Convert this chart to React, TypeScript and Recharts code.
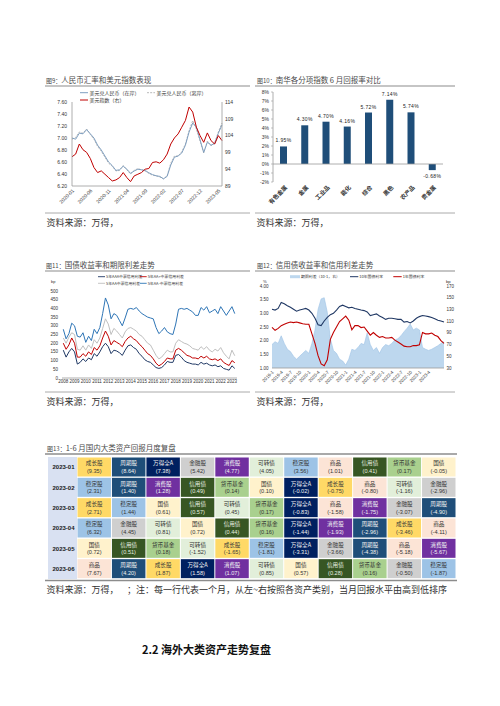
import React from 'react';
import { LineChart, Line, XAxis, YAxis, BarChart, Bar, ComposedChart, Area, ReferenceLine, LabelList } from 'recharts';

const CJK = '"Noto Sans CJK SC", "Noto Sans", sans-serif';
const NUM = '"Liberation Sans", Arial, sans-serif';

// ---------- 图9 人民币汇率和美元指数 ----------
const fxMonths = [
  '2020-01','2020-02','2020-03','2020-04','2020-05','2020-06','2020-07','2020-08','2020-09','2020-10','2020-11','2020-12',
  '2021-01','2021-02','2021-03','2021-04','2021-05','2021-06','2021-07','2021-08','2021-09','2021-10','2021-11','2021-12',
  '2022-01','2022-02','2022-03','2022-04','2022-05','2022-06','2022-07','2022-08','2022-09','2022-10','2022-11','2022-12',
  '2023-01','2023-02','2023-03','2023-04','2023-05','2023-06',
];
const fxTickMonths = ['2020-01','2020-06','2020-11','2021-04','2021-09','2022-02','2022-07','2022-12','2023-05'];
const usdCnyOnshore = [
  7.00, 6.98, 7.08, 7.07, 7.14, 7.07, 7.00, 6.88, 6.80, 6.70, 6.60, 6.54,
  6.46, 6.47, 6.53, 6.48, 6.41, 6.45, 6.48, 6.47, 6.46, 6.42, 6.39, 6.37,
  6.36, 6.32, 6.36, 6.55, 6.68, 6.70, 6.75, 6.88, 7.10, 7.25, 7.18, 6.97,
  6.76, 6.93, 6.88, 6.91, 7.08, 7.22,
];
const usdCnhOffshore = [
  6.98, 7.01, 7.10, 7.08, 7.15, 7.06, 6.98, 6.86, 6.78, 6.68, 6.58, 6.53,
  6.45, 6.46, 6.54, 6.47, 6.40, 6.46, 6.49, 6.47, 6.45, 6.41, 6.38, 6.37,
  6.35, 6.32, 6.37, 6.58, 6.70, 6.70, 6.77, 6.90, 7.12, 7.29, 7.15, 6.95,
  6.75, 6.95, 6.87, 6.92, 7.10, 7.25,
];
const dollarIndex = [
  97.7, 98.5, 101.5, 99.8, 99.0, 97.2, 94.5, 93.0, 93.5, 92.5, 91.5, 90.5,
  90.8, 91.5, 93.0, 91.5, 90.3, 92.0, 92.5, 93.0, 94.0, 94.2, 96.0, 96.2,
  95.8, 96.8, 98.5, 101.5, 103.3, 104.5, 106.5, 108.5, 112.5, 111.0, 106.5, 104.0,
  102.0, 104.8, 102.5, 101.5, 104.0, 102.5,
];
const fxLeftTicks = [6.2, 6.4, 6.6, 6.8, 7.0, 7.2, 7.4, 7.6];
const fxRightTicks = [89, 94, 99, 104, 109, 114];

// ---------- 图10 南华分项指数 ----------
const nhCategories = ['有色金属', '金属', '工业品', '能化', '综合', '黑色', '农产品', '贵金属'];
const nhReturns = [1.95, 4.30, 4.70, 4.16, 5.72, 7.14, 5.74, -0.68];
const nhTicks = [-2, -1, 0, 1, 2, 3, 4, 5, 6, 7, 8];

// ---------- 图11 信用利差 ----------
const spreadQuarters = [
  '2008Q1','2008Q2','2008Q3','2008Q4','2009Q1','2009Q2','2009Q3','2009Q4',
  '2010Q1','2010Q2','2010Q3','2010Q4','2011Q1','2011Q2','2011Q3','2011Q4',
  '2012Q1','2012Q2','2012Q3','2012Q4','2013Q1','2013Q2','2013Q3','2013Q4',
  '2014Q1','2014Q2','2014Q3','2014Q4','2015Q1','2015Q2','2015Q3','2015Q4',
  '2016Q1','2016Q2','2016Q3','2016Q4','2017Q1','2017Q2','2017Q3','2017Q4',
  '2018Q1','2018Q2','2018Q3','2018Q4','2019Q1','2019Q2','2019Q3','2019Q4',
  '2020Q1','2020Q2','2020Q3','2020Q4','2021Q1','2021Q2','2021Q3','2021Q4',
  '2022Q1','2022Q2','2022Q3','2022Q4','2023Q1','2023Q2',
];
const spreadYearLabels = ['2008','2009','2010','2011','2012','2013','2014','2015','2016','2017','2018','2019','2020','2021','2022','2023'];
const spreadAAA = [
  160, 120, 150, 170, 150, 80, 90, 110, 95, 115, 105, 140, 125, 150, 180, 200,
  180, 140, 160, 155, 145, 130, 160, 185, 190, 175, 165, 140, 125, 105, 95, 90,
  75, 60, 55, 60, 75, 95, 90, 90, 130, 135, 120, 100, 90, 85, 80, 80,
  75, 90, 80, 85, 75, 70, 75, 65, 70, 55, 50, 45, 70, 55,
];
const spreadAAplus = [
  200, 165, 190, 230, 200, 120, 120, 140, 125, 150, 135, 175, 160, 185, 230, 270,
  240, 190, 215, 205, 195, 180, 210, 230, 240, 225, 215, 195, 180, 160, 140, 130,
  110, 85, 70, 80, 95, 115, 110, 110, 160, 170, 160, 145, 130, 125, 115, 115,
  110, 125, 115, 125, 110, 105, 110, 100, 110, 90, 80, 72, 100, 88,
];
const spreadAA = [
  230, 200, 235, 260, 250, 165, 160, 185, 160, 190, 170, 220, 200, 230, 285, 340,
  310, 250, 285, 270, 250, 230, 265, 285, 290, 280, 270, 250, 240, 220, 200, 190,
  160, 130, 110, 120, 140, 160, 150, 150, 200, 220, 210, 200, 195, 185, 170, 165,
  160, 180, 165, 180, 160, 150, 165, 155, 175, 145, 125, 110, 160, 128,
];
const spreadAAminus = [
  280, 225, 255, 315, 300, 240, 235, 260, 205, 240, 215, 280, 255, 290, 370, 460,
  420, 340, 370, 360, 330, 300, 345, 395, 400, 395, 405, 385, 370, 360, 350, 345,
  340, 290, 255, 270, 290, 265, 255, 250, 310, 395, 400, 395, 400, 390, 380, 360,
  360, 405, 390, 410, 375, 385, 395, 370, 410, 385, 360, 385, 410, 370,
];
const spreadTicks = [0, 50, 100, 150, 200, 250, 300, 350, 400, 450, 500];

// ---------- 图12 国债利率与期限利差 ----------
const rateMonths = [
  '2019-1','2019-2','2019-3','2019-4','2019-5','2019-6','2019-7','2019-8','2019-9','2019-10','2019-11','2019-12',
  '2020-1','2020-2','2020-3','2020-4','2020-5','2020-6','2020-7','2020-8','2020-9','2020-10','2020-11','2020-12',
  '2021-1','2021-2','2021-3','2021-4','2021-5','2021-6','2021-7','2021-8','2021-9','2021-10','2021-11','2021-12',
  '2022-1','2022-2','2022-3','2022-4','2022-5','2022-6','2022-7','2022-8','2022-9','2022-10','2022-11','2022-12',
  '2023-1','2023-2','2023-3','2023-4','2023-5','2023-6','2023-7','2023-8','2023-9',
];
const rateTickMonths = ['2019-1','2019-4','2019-7','2019-10','2020-1','2020-4','2020-7','2020-10','2021-1','2021-4','2021-7','2021-10','2022-1','2022-4','2022-7','2022-10','2023-1','2023-4'];
const tenYearYield = [
  3.15, 3.12, 3.18, 3.40, 3.35, 3.28, 3.22, 3.15, 3.08, 3.12, 3.15, 3.18,
  3.12, 3.00, 2.82, 2.58, 2.55, 2.72, 2.85, 2.95, 3.00, 3.12, 3.25, 3.30,
  3.25, 3.20, 3.22, 3.18, 3.15, 3.12, 3.10, 3.05, 2.92, 2.95, 2.98, 2.90,
  2.85, 2.78, 2.82, 2.82, 2.80, 2.78, 2.78, 2.68, 2.70, 2.65, 2.72, 2.82,
  2.88, 2.92, 2.90, 2.88, 2.85, 2.80, 2.75, 2.72, 2.68,
];
const oneYearYield = [
  2.49, 2.38, 2.45, 2.55, 2.60, 2.65, 2.68, 2.66, 2.68, 2.65, 2.62, 2.60,
  2.60, 2.25, 1.90, 1.45, 1.15, 1.08, 1.30, 2.05, 2.30, 2.50, 2.70, 2.80,
  2.90, 2.75, 2.40, 2.55, 2.55, 2.48, 2.50, 2.35, 2.20, 2.30, 2.20, 2.12,
  2.15, 2.10, 2.10, 2.12, 2.02, 1.95, 1.88, 1.80, 1.78, 1.78, 1.82, 1.82,
  1.85, 2.30, 2.25, 2.25, 2.28, 2.20, 2.15, 2.00, 1.90,
];
const termSpread = [
  70, 75, 72, 85, 72, 62, 58, 50, 45, 50, 55, 60,
  55, 72, 95, 130, 148, 150, 125, 80, 60, 55, 45, 42,
  35, 45, 62, 60, 65, 72, 70, 90, 70, 60, 65, 55,
  65, 70, 68, 72, 78, 80, 85, 92, 98, 105, 95, 98,
  95, 65, 62, 60, 62, 65, 68, 72, 75,
];
const rateLeftTicks = [1, 1.5, 2, 2.5, 3, 3.5, 4];
const rateRightTicks = [30, 50, 70, 90, 110, 130, 150, 170];

// ---------- 图13 大类资产月度回报 ----------
const tableMonths = ['2023-01', '2023-02', '2023-03', '2023-04', '2023-05', '2023-06'];
const rankAssets = [
  ['成长股', '周期股', '万得全A', '金融股', '消费股', '可转债', '稳定股', '商品', '信用债', '货币基金', '国债'],
  ['稳定股', '周期股', '消费股', '信用债', '货币基金', '国债', '万得全A', '成长股', '商品', '可转债', '金融股'],
  ['成长股', '稳定股', '国债', '信用债', '可转债', '货币基金', '万得全A', '商品', '消费股', '金融股', '周期股'],
  ['稳定股', '金融股', '可转债', '国债', '信用债', '货币基金', '万得全A', '消费股', '周期股', '成长股', '商品'],
  ['国债', '信用债', '货币基金', '可转债', '成长股', '稳定股', '万得全A', '金融股', '周期股', '商品', '消费股'],
  ['商品', '周期股', '成长股', '万得全A', '消费股', '可转债', '国债', '信用债', '货币基金', '金融股', '稳定股'],
];
const rankReturns = [
  [9.35, 8.64, 7.38, 5.42, 4.77, 4.05, 3.56, 1.01, 0.41, 0.17, -0.05],
  [2.31, 1.40, 1.28, 0.49, 0.14, 0.10, -0.02, -0.75, -0.80, -1.16, -2.96],
  [2.71, 1.44, 0.61, 0.57, 0.45, 0.17, -0.83, -1.58, -1.75, -3.07, -4.90],
  [6.32, 4.45, 0.81, 0.72, 0.44, 0.16, -1.44, -1.93, -2.96, -3.46, -4.11],
  [0.72, 0.51, 0.18, -1.52, -1.65, -1.81, -3.31, -3.66, -4.38, -5.18, -5.67],
  [7.67, 4.20, 1.87, 1.58, 1.07, 0.85, 0.57, 0.28, 0.16, -0.50, -1.87],
];
const rankSlots = ['r0', 'r1', 'r2', 'r3', 'r4', 'r5', 'r6', 'r7', 'r8', 'r9', 'r10'];

const assetStyle: Record<string, { bg: string; fg: string }> = {
  '成长股': { bg: '#FFD966', fg: '#3A3A3A' },
  '周期股': { bg: '#1F4E79', fg: '#F2F2F2' },
  '万得全A': { bg: '#002060', fg: '#F2F2F2' },
  '金融股': { bg: '#CFCFCF', fg: '#333333' },
  '消费股': { bg: '#7030A0', fg: '#F2F2F2' },
  '可转债': { bg: '#E2EFDA', fg: '#333333' },
  '稳定股': { bg: '#9DC3E6', fg: '#333333' },
  '商品': { bg: '#FCE4D6', fg: '#333333' },
  '信用债': { bg: '#375623', fg: '#E8F0E0' },
  '货币基金': { bg: '#A9D08E', fg: '#333333' },
  '国债': { bg: '#FFF2CC', fg: '#333333' },
};

// ---------- shared ticks ----------
const RotTick = (props: any) => {
  const { x, y, payload, labels, size = 5, bold = false, fam = NUM, dx = 2.5, dy = 5 } = props;
  const label = labels ? labels[payload.value] : payload.value;
  const px = x + dx;
  const py = y + dy;
  return (
    <text x={px} y={py} transform={`rotate(-45 ${px} ${py})`} textAnchor="end" fontSize={size}
      fontWeight={bold ? 700 : 400} fontFamily={fam} fill="#333">{label}</text>
  );
};

const numTick = (size: number) => ({ fontSize: size, fill: '#333', fontFamily: NUM });

function FxChart() {
  const data = fxMonths.map((m, i) => ({ i, month: m, on: usdCnyOnshore[i], off: usdCnhOffshore[i], dxy: dollarIndex[i] }));
  const tickIdx = fxTickMonths.map((m) => fxMonths.indexOf(m));
  return (
    <div style={{ position: 'absolute', left: 40, top: 86 }}>
      <LineChart width={210} height={127} data={data} margin={{ top: 16, right: 6, bottom: 2, left: 0 }}>
        <XAxis dataKey="i" type="number" domain={[0, 41]} ticks={tickIdx} interval={0} height={25}
          tickSize={0} tickMargin={0} tickLine={false} axisLine={{ stroke: '#9A9A9A', strokeWidth: 0.8 }}
          tick={(p: any) => <RotTick {...p} labels={fxMonths} size={5} />} />
        <YAxis yAxisId="l" domain={[6.2, 7.6]} ticks={fxLeftTicks} interval={0} width={32}
          tickFormatter={(v: number) => v.toFixed(2)} tickLine={false} tickSize={0} tickMargin={5}
          axisLine={{ stroke: '#9A9A9A', strokeWidth: 0.8 }} tick={numTick(5)} />
        <YAxis yAxisId="r" orientation="right" domain={[89, 114]} ticks={fxRightTicks} interval={0} width={22}
          tickLine={false} tickSize={0} tickMargin={3} axisLine={{ stroke: '#9A9A9A', strokeWidth: 0.8 }} tick={numTick(5)} />
        <Line yAxisId="l" dataKey="off" stroke="#A6A6A6" strokeWidth={0.8} strokeDasharray="2 1.2" dot={false} isAnimationActive={false} />
        <Line yAxisId="l" dataKey="on" stroke="#7F9FC0" strokeWidth={1} dot={false} isAnimationActive={false} />
        <Line yAxisId="r" dataKey="dxy" stroke="#C00000" strokeWidth={1} dot={false} isAnimationActive={false} />
      </LineChart>
    </div>
  );
}

const BarLabel = (p: any) => {
  const { x, y, width, height, value } = p;
  const top = Math.min(y, y + height);
  const bottom = Math.max(y, y + height);
  const neg = value < 0;
  return (
    <text x={x + width / 2} y={neg ? bottom + 8 : top - 4} textAnchor="middle" fontSize={5} letterSpacing={0.4}
      fontFamily={NUM} fill="#222">{`${value.toFixed(2)}%`}</text>
  );
};

function NanhuaChart() {
  const data = nhCategories.map((name, i) => ({ name, v: nhReturns[i] }));
  return (
    <div style={{ position: 'absolute', left: 250, top: 86 }}>
      <BarChart width={205} height={127} data={data} margin={{ top: 6, right: 12, bottom: 1, left: 0 }}>
        <XAxis dataKey="name" interval={0} height={30} tickSize={0} tickMargin={0} tickLine={false} axisLine={false}
          tick={(p: any) => <RotTick {...p} size={5.8} bold fam={CJK} dx={4} dy={6} />} />
        <YAxis domain={[-2, 8]} ticks={nhTicks} interval={0} width={23} tickFormatter={(v: number) => `${v}%`}
          tickSize={2} tickMargin={2} tickLine={{ stroke: '#9A9A9A', strokeWidth: 0.6 }}
          axisLine={{ stroke: '#9A9A9A', strokeWidth: 0.8 }} tick={numTick(5)} />
        <ReferenceLine y={0} stroke="#9A9A9A" strokeWidth={0.8} />
        <Bar dataKey="v" fill="#1F4E79" barSize={7} isAnimationActive={false}>
          <LabelList dataKey="v" content={BarLabel} />
        </Bar>
      </BarChart>
    </div>
  );
}

function SpreadChart() {
  const data = spreadQuarters.map((q, i) => ({
    i, q, aaa: spreadAAA[i], aap: spreadAAplus[i], aa: spreadAA[i], aam: spreadAAminus[i],
  }));
  const yearTicks = spreadYearLabels.map((y) => spreadQuarters.indexOf(`${y}Q1`));
  return (
    <div style={{ position: 'absolute', left: 40, top: 272 }}>
      <LineChart width={210} height={120} data={data} margin={{ top: 19, right: 13, bottom: 2, left: 0 }}>
        <XAxis dataKey="i" type="number" domain={[-0.46, 61.8]} ticks={yearTicks} interval={0} height={12}
          tickFormatter={(v: number) => spreadQuarters[v].slice(0, 4)} tickSize={0} tickMargin={2} tickLine={false}
          axisLine={{ stroke: '#9A9A9A', strokeWidth: 0.8 }} tick={numTick(4.5)} />
        <YAxis domain={[0, 500]} ticks={spreadTicks} interval={0} width={22} tickSize={0} tickMargin={4}
          tickLine={false} axisLine={false} tick={numTick(4.5)} />
        <Line dataKey="aam" stroke="#2E75B6" strokeWidth={1} dot={false} isAnimationActive={false} />
        <Line dataKey="aa" stroke="#BFBFBF" strokeWidth={1} dot={false} isAnimationActive={false} />
        <Line dataKey="aap" stroke="#C00000" strokeWidth={1} dot={false} isAnimationActive={false} />
        <Line dataKey="aaa" stroke="#1F3864" strokeWidth={1} dot={false} isAnimationActive={false} />
      </LineChart>
    </div>
  );
}

function RateChart() {
  const data = rateMonths.map((m, i) => ({ i, m, ten: tenYearYield[i], one: oneYearYield[i], sp: termSpread[i] }));
  const tickIdx = rateTickMonths.map((m) => rateMonths.indexOf(m));
  return (
    <div style={{ position: 'absolute', left: 250, top: 272 }}>
      <ComposedChart width={205} height={120} data={data} margin={{ top: 14, right: 0, bottom: 2, left: 0 }}>
        <XAxis dataKey="i" type="number" domain={[0, 56]} ticks={tickIdx} interval={0} height={22}
          tickSize={0} tickMargin={0} tickLine={false} axisLine={{ stroke: '#9A9A9A', strokeWidth: 0.8 }}
          tick={(p: any) => <RotTick {...p} labels={rateMonths} size={4.5} dx={2} dy={4.5} />} />
        <YAxis yAxisId="l" domain={[1, 4]} ticks={rateLeftTicks} interval={0} width={22}
          tickFormatter={(v: number) => v.toFixed(2)} tickSize={0} tickMargin={3.5} tickLine={false}
          axisLine={false} tick={numTick(4.5)} />
        <YAxis yAxisId="r" orientation="right" domain={[30, 170]} ticks={rateRightTicks} interval={0} width={11}
          tickSize={0} tickMargin={2.5} tickLine={false} axisLine={false} tick={numTick(4.5)} />
        <Area yAxisId="r" dataKey="sp" baseValue="dataMin" fill="#BDD7EE" fillOpacity={1} stroke="#9DC3E6"
          strokeWidth={0.6} dot={false} isAnimationActive={false} />
        <Line yAxisId="l" dataKey="ten" stroke="#203864" strokeWidth={1.1} dot={false} isAnimationActive={false} />
        <Line yAxisId="l" dataKey="one" stroke="#C00000" strokeWidth={1.1} dot={false} isAnimationActive={false} />
      </ComposedChart>
    </div>
  );
}

const MonthTick = (p: any) => (
  <text x={15.5} y={p.y} dy="0.35em" textAnchor="middle" fontSize={6} fontWeight={700} fontFamily={NUM} fill="#1A1A1A">
    {p.payload.value}
  </text>
);

function makeCellShape(slot: number) {
  return (p: any) => {
    const { x, y, width, height, index } = p;
    const name = rankAssets[index][slot];
    const val = rankReturns[index][slot];
    const st = assetStyle[name];
    const cx = x + width / 2;
    return (
      <g>
        <rect x={x + 0.5} y={y + 0.5} width={width - 1} height={height - 1} fill={st.bg} />
        <text x={cx} y={y + 8.4} textAnchor="middle" fontSize={5.6} fontFamily={CJK} fill={st.fg}>{name}</text>
        <text x={cx} y={y + 16} textAnchor="middle" fontSize={5.6} fontFamily={NUM} fill={st.fg}>{`(${val.toFixed(2)})`}</text>
      </g>
    );
  };
}

function ReturnTable() {
  const data = tableMonths.map((month) => {
    const row: Record<string, any> = { month };
    rankSlots.forEach((s) => { row[s] = 1; });
    return row;
  });
  return (
    <>
      <div style={{ position: 'absolute', left: 48, top: 456.5, width: 29, height: 122, background: '#D9E1F2' }} />
      <div style={{ position: 'absolute', left: 48, top: 456.5 }}>
        <BarChart layout="vertical" width={408} height={122} data={data} margin={{ top: 0, right: 0, bottom: 0, left: 0 }}
          barCategoryGap={0}>
          <XAxis type="number" domain={[0, 11]} hide />
          <YAxis type="category" dataKey="month" width={29} axisLine={false} tickLine={false} interval={0} tick={MonthTick} />
          {rankSlots.map((s, k) => (
            <Bar key={s} dataKey={s} stackId="t" isAnimationActive={false} shape={makeCellShape(k)} />
          ))}
        </BarChart>
      </div>
    </>
  );
}

function PageText() {
  const title = (x: number, y: number, num: string, s: string) => (
    <text x={x} y={y} fontFamily={CJK} fill="#4A4A4A">
      <tspan fontSize={6}>{num}</tspan>
      <tspan fontSize={7.5}>{s}</tspan>
    </text>
  );
  const src = (x: number, y: number) => (
    <text x={x} y={y} fontSize={9} fontFamily={CJK} fill="#333">资料来源：万得，</text>
  );
  const lg = { fontSize: 5, fontFamily: CJK, fill: '#333' } as any;
  const lg2 = { fontSize: 3.9, fontFamily: CJK, fill: '#333' } as any;
  return (
    <svg width={500} height={706} style={{ position: 'absolute', left: 0, top: 0, pointerEvents: 'none' }}>
      {/* titles */}
      {title(46, 82.6, '图9：', '人民币汇率和美元指数表现')}
      {title(257, 82.6, '图10：', '南华各分项指数 6 月回报率对比')}
      {title(46, 267.6, '图11：', '国债收益率和期限利差走势')}
      {title(257, 267.6, '图12：', '信用债收益率和信用利差走势')}
      {title(47, 450.8, '图13：', '1-6 月国内大类资产回报月度复盘')}

      {/* rules */}
      <line x1={45} x2={250} y1={86} y2={86} stroke="#8C8C8C" strokeWidth={1.2} />
      <line x1={255} x2={455} y1={86} y2={86} stroke="#8C8C8C" strokeWidth={1.2} />
      <line x1={45} x2={250} y1={213} y2={213} stroke="#A0A0A0" strokeWidth={0.9} />
      <line x1={255} x2={455} y1={213} y2={213} stroke="#A0A0A0" strokeWidth={0.9} />
      <line x1={45} x2={250} y1={271} y2={271} stroke="#8C8C8C" strokeWidth={1.2} />
      <line x1={255} x2={455} y1={271} y2={271} stroke="#8C8C8C" strokeWidth={1.2} />
      <line x1={45} x2={250} y1={392} y2={392} stroke="#A0A0A0" strokeWidth={0.9} />
      <line x1={255} x2={455} y1={392} y2={392} stroke="#A0A0A0" strokeWidth={0.9} />
      <line x1={45} x2={457} y1={454} y2={454} stroke="#8C8C8C" strokeWidth={1.4} />
      <line x1={45} x2={457} y1={580.5} y2={580.5} stroke="#8C8C8C" strokeWidth={1.4} />

      {/* sources */}
      {src(46.5, 226.3)}
      {src(256.5, 226.3)}
      {src(46.5, 405)}
      {src(256.5, 405)}
      {src(46.5, 593.3)}
      <text x={127} y={593.3} fontSize={9} fontFamily={CJK} fill="#333">；注：每一行代表一个月，从左~右按照各资产类别，当月回报水平由高到低排序</text>

      {/* chart 9 legend */}
      <line x1={80} x2={88} y1={92.7} y2={92.7} stroke="#7F9FC0" strokeWidth={1} />
      <text x={89.5} y={94.5} {...lg}>美元兑人民币（在岸）</text>
      <line x1={147} x2={155} y1={92.7} y2={92.7} stroke="#A6A6A6" strokeWidth={0.8} strokeDasharray="2 1.2" />
      <text x={156.5} y={94.5} {...lg}>美元兑人民币（离岸）</text>
      <line x1={80} x2={88} y1={100} y2={100} stroke="#C00000" strokeWidth={1} />
      <text x={89.5} y={101.8} {...lg}>美元指数（右）</text>

      {/* chart 11 legend */}
      <text x={51} y={283} fontSize={4} fontFamily={NUM} fill="#333">bp</text>
      <line x1={98} x2={105} y1={276.7} y2={276.7} stroke="#1F3864" strokeWidth={0.9} />
      <text x={106} y={278.1} {...lg2}>5年AAA中票信用利差</text>
      <line x1={140} x2={146.7} y1={276.7} y2={276.7} stroke="#C00000" strokeWidth={0.9} />
      <text x={147.7} y={278.1} {...lg2}>5年AA+中票信用利差</text>
      <line x1={98} x2={105} y1={283.3} y2={283.3} stroke="#BFBFBF" strokeWidth={0.9} />
      <text x={106} y={284.7} {...lg2}>5年AA中票信用利差</text>
      <line x1={140} x2={146.7} y1={283.3} y2={283.3} stroke="#2E75B6" strokeWidth={0.9} />
      <text x={147.7} y={284.7} {...lg2}>5年AA-中票信用利差</text>

      {/* chart 12 legend */}
      <text x={263} y={283} fontSize={4.2} fontFamily={NUM} fill="#333">%</text>
      <text x={446} y={283} fontSize={4.2} fontFamily={NUM} fill="#333">bp</text>
      <rect x={290} y={275.2} width={10} height={3} fill="#BDD7EE" />
      <text x={301} y={278.2} {...lg2}>期限利差（10-1，右）</text>
      <line x1={350} x2={358.3} y1={276.7} y2={276.7} stroke="#203864" strokeWidth={1} />
      <text x={359.3} y={278.2} {...lg2}>10年国债利率</text>
      <line x1={393.3} x2={401.7} y1={276.7} y2={276.7} stroke="#C00000" strokeWidth={1} />
      <text x={402.7} y={278.2} {...lg2}>1年国债利率</text>

      {/* section heading */}
      <text x={142} y={654} fontSize={11} fontWeight={700} fontFamily={CJK} fill="#111">2.2 海外大类资产走势复盘</text>
    </svg>
  );
}

export default function App() {
  return (
    <div style={{ position: 'absolute', left: 0, top: 0, width: 500, height: 706, background: '#fff', overflow: 'hidden' }}>
      <FxChart />
      <NanhuaChart />
      <SpreadChart />
      <RateChart />
      <ReturnTable />
      <PageText />
    </div>
  );
}
